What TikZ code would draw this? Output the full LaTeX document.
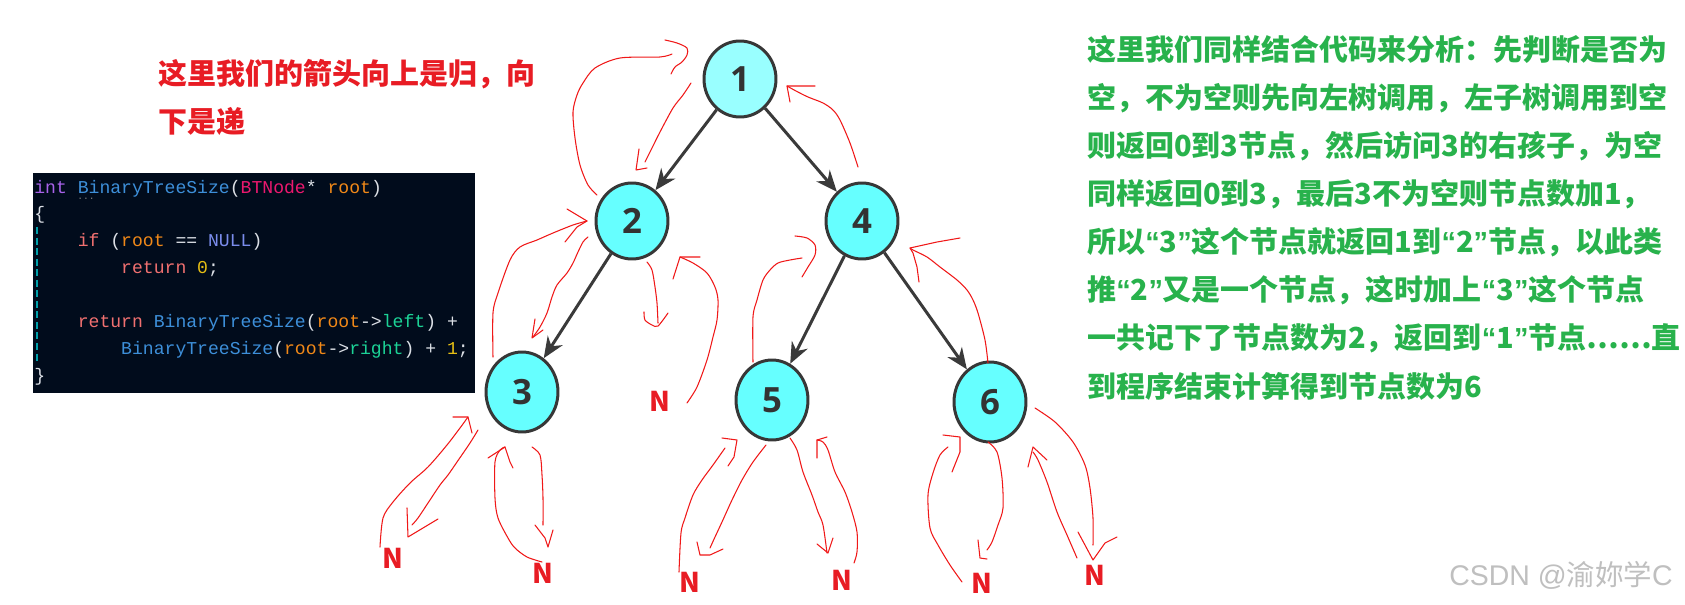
\documentclass[tikz,border=0pt]{standalone}
\usepackage{fontspec}
\setmainfont{Liberation Sans}
\setmonofont{Liberation Mono}
\newfontfamily\cjk{Noto Sans CJK SC}
\newfontfamily\digitfont{Open Sans}
\usepackage{tikz}
\usetikzlibrary{shapes.geometric, arrows.meta}
\definecolor{nodetop}{RGB}{153,255,255}
\definecolor{nodecyan}{RGB}{102,255,255}
\definecolor{nodeline}{RGB}{55,55,55}
\definecolor{edgegray}{RGB}{58,58,58}
\definecolor{pen}{RGB}{240,24,24}
\definecolor{notered}{RGB}{232,28,36}
\definecolor{notegreen}{RGB}{40,178,76}
\definecolor{codebg}{RGB}{1,12,28}
\definecolor{codekw}{RGB}{168,98,234}
\definecolor{codefn}{RGB}{61,143,217}
\definecolor{codety}{RGB}{236,24,110}
\definecolor{codevar}{RGB}{240,136,24}
\definecolor{codectl}{RGB}{240,112,112}
\definecolor{codenull}{RGB}{122,140,236}
\definecolor{codenum}{RGB}{232,192,20}
\definecolor{codefld}{RGB}{28,210,150}
\definecolor{codepun}{RGB}{220,224,230}
\definecolor{codeguide}{RGB}{0,160,170}
\newcommand{\indentfour}{\phantom{xxxx}}
\newcommand{\indenteight}{\phantom{xxxxxxxx}}
\newcommand{\qopen}{{\rmfamily“}}
\newcommand{\qclose}{{\rmfamily”}}

\begin{document}
\begin{tikzpicture}[
  x=0.02cm, y=-0.02cm,
  treenode/.style={ellipse,draw=nodeline,line width=1.7pt,fill=nodecyan,
                   minimum width=1.44cm,minimum height=1.52cm,inner sep=0pt,
                   text=black!80,font=\digitfont\bfseries\fontsize{19.8}{20}\selectfont},
  lownode/.style={treenode,minimum height=1.6cm},
  treeedge/.style={-{Stealth[length=12pt,width=10pt]},line width=1.7pt,color=edgegray},
  scribble/.style={pen,line width=0.6pt,line join=round,line cap=round},
  nullmark/.style={text=notered,font=\cjk\bfseries\fontsize{15.5}{16}\selectfont,inner sep=0pt}
]
  \useasboundingbox (0,0) rectangle (1685,605);
  \fill[white] (0,0) rectangle (1685,605);

  \node[anchor=west,align=left,inner sep=0pt,text=notered,
        font=\cjk\bfseries\fontsize{16.5}{27.8}\selectfont] (rednote) at (158,97.5)
        {这里我们的箭头向上是归，向\\下是递};

  \node[fill=codebg,minimum width=8.84cm,minimum height=4.4cm,inner sep=0pt] (codebox) at (254,283) {};
  \draw[codeguide,line width=0.8pt,dash pattern=on 4pt off 2pt] (37,227) -- (37,363);
  \node[anchor=west,align=left,inner sep=0pt,text=codepun,
        font=\ttfamily\fontsize{10.3}{15.3}\selectfont] (code) at (34,282.5)
        {\textcolor{codekw}{int} \textcolor{codefn}{BinaryTreeSize}(\textcolor{codety}{BTNode}* \textcolor{codevar}{root})\\
         \{\\
         \indentfour\textcolor{codectl}{if} (\textcolor{codevar}{root} == \textcolor{codenull}{NULL})\\
         \indenteight\textcolor{codectl}{return} \textcolor{codenum}{0};\\
         \mbox{}\\
         \indentfour\textcolor{codectl}{return} \textcolor{codefn}{BinaryTreeSize}(\textcolor{codevar}{root}->\textcolor{codefld}{left}) +\\
         \indenteight\textcolor{codefn}{BinaryTreeSize}(\textcolor{codevar}{root}->\textcolor{codefld}{right}) + \textcolor{codenum}{1};\\
         \}};
  \node[inner sep=0pt,text=gray,font=\ttfamily\fontsize{5.5}{6}\selectfont] (hint) at (86,199) {...};

  \node[treenode,fill=nodetop] (one) at (740,79) {1};
  \node[treenode] (two) at (632,221) {2};
  \node[treenode] (four) at (862,221) {4};
  \node[lownode] (three) at (522,392) {3};
  \node[lownode] (five) at (772,400) {5};
  \node[lownode] (six) at (990,402) {6};

  \draw[treeedge] (one) -- (two);
  \draw[treeedge] (one) -- (four);
  \draw[treeedge] (two) -- (three);
  \draw[treeedge] (four) -- (five);
  \draw[treeedge] (four) -- (six);

  \node[nullmark] (nulltwo) at (660,401) {N};
  \node[nullmark] (nullthreel) at (393,558) {N};
  \node[nullmark] (nullthreer) at (543,573) {N};
  \node[nullmark] (nullfivel) at (690,582) {N};
  \node[nullmark] (nullfiver) at (842,580) {N};
  \node[nullmark] (nullsixl) at (982,583) {N};
  \node[nullmark] (nullsixr) at (1095,575) {N};

  \draw[scribble] plot[smooth,tension=0.5] coordinates {(597,195) (588,185) (580,165) (575,138) (573,112) (577,95) (583,83) (595,68) (620,58) (660,57) (672,54)};
  \draw[scribble] plot[smooth,tension=0.5] coordinates {(665,40) (677,43) (687,48) (687,55) (682,62) (675,67) (671,74)};
  \draw[scribble] plot[smooth,tension=0.5] coordinates {(691,83) (683,95) (673,108) (660,132) (652,148) (645,162)};
  \draw[scribble] (639,149) -- (636,170) -- (647,168);
  \draw[scribble] plot[smooth,tension=0.5] coordinates {(858,167) (850,143) (840,120) (833,110) (823,103) (808,97) (796,91) (787,86)};
  \draw[scribble] (815,86) -- (787,86) -- (790,102);
  \draw[scribble] plot[smooth,tension=0.5] coordinates {(493,357) (493,313) (498,293) (510,260) (520,247) (537,240) (553,233) (573,225) (587,221)};
  \draw[scribble] (567,209) -- (577,215) -- (587,221) -- (577,227) -- (565,242);
  \draw[scribble] plot[smooth,tension=0.5] coordinates {(588,237) (583,242) (578,252) (573,263) (567,273) (557,285) (552,297) (547,313) (540,327) (533,337)};
  \draw[scribble] (535,319) -- (532,338) -- (543,330);
  \draw[scribble] plot[smooth,tension=0.5] coordinates {(647,262) (652,270) (655,287) (657,303) (658,323)};
  \draw[scribble] plot[smooth,tension=0.5] coordinates {(644,312) (645,320) (652,325) (658,326) (668,313)};
  \draw[scribble] plot[smooth,tension=0.5] coordinates {(687,403) (697,387) (707,360) (713,337) (717,320) (718,300) (715,287) (707,273) (693,263) (680,257)};
  \draw[scribble] (700,257) -- (680,257) -- (673,279);
  \draw[scribble] plot[smooth,tension=0.5] coordinates {(753,362) (753,317) (757,300) (763,280) (770,270) (778,263) (790,260) (802,258)};
  \draw[scribble] plot[smooth,tension=0.5] coordinates {(795,236) (807,238) (815,245) (815,255) (808,267) (802,277)};
  \draw[scribble] plot[smooth,tension=0.5] coordinates {(988,363) (985,340) (978,313) (973,300) (967,290) (957,280) (940,267) (927,257) (913,250) (910,248)};
  \draw[scribble] (960,238) -- (937,242) -- (910,248) -- (913,253) -- (917,267) -- (919,282);
  \draw[scribble] plot[smooth,tension=0.5] coordinates {(478,430) (470,443) (457,462) (448,475) (440,485) (428,503) (418,518) (412,525)};
  \draw[scribble] (407,508) -- (408,537) -- (438,519);
  \draw[scribble] plot[smooth,tension=0.5] coordinates {(380,547) (383,518) (393,502) (410,483) (428,467) (447,445) (460,428) (468,417)};
  \draw[scribble] (453,417) -- (468,417) -- (472,433);
  \draw[scribble] plot[smooth,tension=0.5] coordinates {(532,447) (540,455) (542,475) (543,498) (543,525)};
  \draw[scribble] (535,525) -- (545,538) -- (548,547) -- (553,530);
  \draw[scribble] plot[smooth,tension=0.5] coordinates {(542,562) (527,557) (515,548) (508,538) (498,518) (495,498) (495,462) (500,450) (505,447)};
  \draw[scribble] (488,458) -- (505,447) -- (510,462) -- (513,468);
  \draw[scribble] plot[smooth,tension=0.5] coordinates {(766,445) (753,462) (742,480) (732,500) (722,522) (715,537) (710,548)};
  \draw[scribble] (697,542) -- (700,555) -- (710,555) -- (723,549);
  \draw[scribble] plot[smooth,tension=0.5] coordinates {(679,572) (681,533) (685,518) (693,495) (702,480) (713,465) (725,448)};
  \draw[scribble] (722,438) -- (737,440) -- (734,457) -- (728,466);
  \draw[scribble] plot[smooth,tension=0.5] coordinates {(790,438) (797,450) (803,472) (812,495) (818,512) (823,525) (827,553)};
  \draw[scribble] (817,544) -- (828,553) -- (833,538);
  \draw[scribble] plot[smooth,tension=0.5] coordinates {(854,563) (857,552) (857,532) (852,512) (845,492) (835,472) (828,450) (823,442) (817,440)};
  \draw[scribble] (827,437) -- (817,440) -- (817,458);
  \draw[scribble] plot[smooth,tension=0.5] coordinates {(988,442) (997,452) (1002,478) (1003,508) (998,525) (992,542) (987,550)};
  \draw[scribble] (978,540) -- (980,558) -- (987,559);
  \draw[scribble] plot[smooth,tension=0.5] coordinates {(962,582) (950,565) (938,545) (930,528) (928,495) (933,473) (940,455) (948,447)};
  \draw[scribble] (943,435) -- (960,437) -- (960,452) -- (952,472);
  \draw[scribble] plot[smooth,tension=0.5] coordinates {(1035,408) (1055,422) (1073,442) (1085,465) (1090,488) (1093,518) (1093,545)};
  \draw[scribble] (1078,532) -- (1093,560) -- (1105,543) -- (1117,537);
  \draw[scribble] plot[smooth,tension=0.5] coordinates {(1077,558) (1067,535) (1057,512) (1047,482) (1038,460) (1033,452)};
  \draw[scribble] (1028,467) -- (1033,447) -- (1047,460);

  \node[anchor=west,align=left,inner sep=0pt,text=notegreen,
        font=\cjk\bfseries\fontsize{16.5}{27.4}\selectfont] (greennote) at (1087,217.5)
        {这里我们同样结合代码来分析：先判断是否为\\
         空，不为空则先向左树调用，左子树调用到空\\
         则返回0到3节点，然后访问3的右孩子，为空\\
         同样返回0到3，最后3不为空则节点数加1，\\
         所以\qopen3\qclose 这个节点就返回1到\qopen2\qclose 节点，以此类\\
         推\qopen2\qclose 又是一个节点，这时加上\qopen3\qclose 这个节点\\
         一共记下了节点数为2，返回到\qopen1\qclose 节点……直\\
         到程序结束计算得到节点数为6};

  \node[anchor=east,inner sep=0pt,text=black!25,font=\fontsize{16.2}{17}\selectfont] (mark) at (1673,575)
        {CSDN @{\cjk 渝妳学}C};
\end{tikzpicture}
\end{document}
